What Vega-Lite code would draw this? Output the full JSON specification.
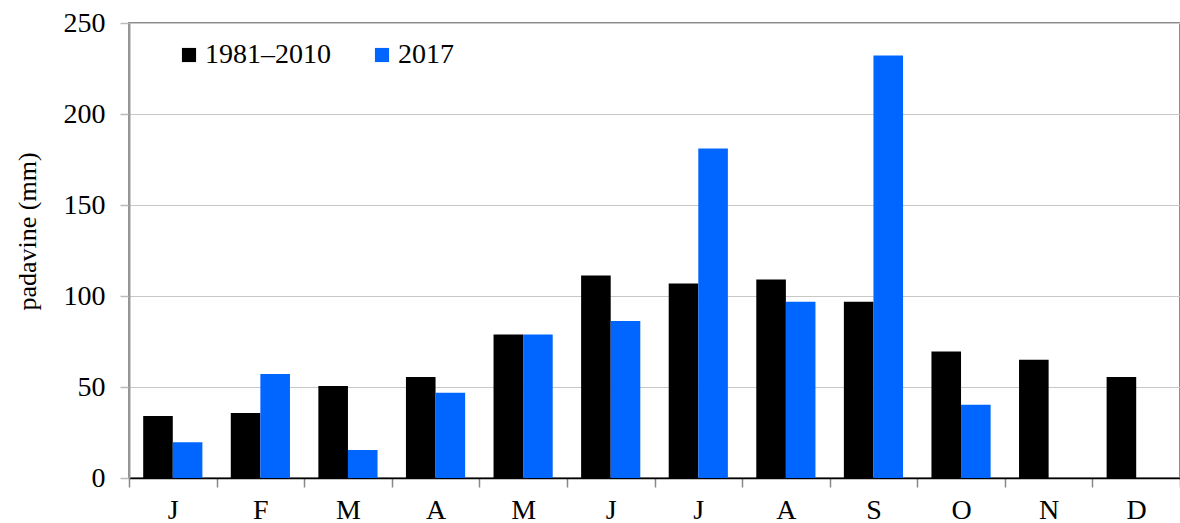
{
  "$schema": "https://vega.github.io/schema/vega-lite/v6.json",
  "width": 1051,
  "height": 455,
  "autosize": {"type": "none"},
  "padding": {"left": 129, "top": 23, "right": 0, "bottom": 45},
  "config": {
    "font": "'Liberation Serif', 'Times New Roman', serif",
    "view": {"stroke": "#8c8c8c", "strokeWidth": 2}
  },
  "data": {
    "values": [
      {"m": 1, "s": "1981–2010", "v": 34},
      {"m": 1, "s": "2017", "v": 19.7},
      {"m": 2, "s": "1981–2010", "v": 35.7},
      {"m": 2, "s": "2017", "v": 57.2},
      {"m": 3, "s": "1981–2010", "v": 50.6},
      {"m": 3, "s": "2017", "v": 15.4},
      {"m": 4, "s": "1981–2010", "v": 55.5},
      {"m": 4, "s": "2017", "v": 46.9},
      {"m": 5, "s": "1981–2010", "v": 78.9},
      {"m": 5, "s": "2017", "v": 78.9},
      {"m": 6, "s": "1981–2010", "v": 111.2},
      {"m": 6, "s": "2017", "v": 86.3},
      {"m": 7, "s": "1981–2010", "v": 106.8},
      {"m": 7, "s": "2017", "v": 181},
      {"m": 8, "s": "1981–2010", "v": 109},
      {"m": 8, "s": "2017", "v": 96.8},
      {"m": 9, "s": "1981–2010", "v": 96.8},
      {"m": 9, "s": "2017", "v": 232.2},
      {"m": 10, "s": "1981–2010", "v": 69.5},
      {"m": 10, "s": "2017", "v": 40.2},
      {"m": 11, "s": "1981–2010", "v": 65},
      {"m": 12, "s": "1981–2010", "v": 55.5}
    ]
  },
  "mark": {"type": "bar"},
  "encoding": {
    "x": {
      "field": "m",
      "type": "ordinal",
      "scale": {"paddingInner": 0, "paddingOuter": 0},
      "axis": {
        "title": null,
        "labelExpr": "['J','F','M','A','M','J','J','A','S','O','N','D'][datum.value-1]",
        "labelAngle": 0,
        "tickBand": "extent",
        "domainColor": "#000000",
        "domainWidth": 1.5,
        "tickColor": "#888888",
        "tickWidth": 1.5,
        "tickSize": 9,
        "labelFontSize": 28,
        "labelPadding": 9,
        "labelColor": "#000000",
        "labelFont": "'Liberation Serif', 'Times New Roman', serif",
        "grid": false
      }
    },
    "xOffset": {
      "field": "s",
      "type": "nominal",
      "sort": ["1981–2010", "2017"],
      "scale": {"paddingInner": 0, "paddingOuter": 0.48}
    },
    "y": {
      "field": "v",
      "type": "quantitative",
      "scale": {"domain": [0, 250], "nice": false},
      "axis": {
        "values": [0, 50, 100, 150, 200, 250],
        "title": "padavine (mm)",
        "titleFont": "'Liberation Serif', 'Times New Roman', serif",
        "titleFontSize": 26,
        "titleFontWeight": "normal",
        "titleColor": "#000000",
        "titleX": -102,
        "titleY": 208,
        "titleAngle": -90,
        "titleBaseline": "middle",
        "titleAlign": "center",
        "domainColor": "#999999",
        "domainWidth": 2,
        "tickColor": "#bbbbbb",
        "tickWidth": 1.5,
        "tickSize": 9,
        "labelFontSize": 28,
        "labelPadding": 15,
        "labelColor": "#000000",
        "labelFont": "'Liberation Serif', 'Times New Roman', serif",
        "gridColor": "#c8c8c8",
        "gridWidth": 1
      }
    },
    "color": {
      "field": "s",
      "type": "nominal",
      "scale": {"domain": ["1981–2010", "2017"], "range": ["#000000", "#0066ff"]},
      "legend": {
        "title": null,
        "orient": "none",
        "legendX": 46,
        "legendY": 18,
        "direction": "horizontal",
        "columns": 2,
        "columnPadding": 37,
        "symbolType": "square",
        "symbolSize": 200,
        "symbolStrokeWidth": 0,
        "labelFont": "'Liberation Serif', 'Times New Roman', serif",
        "labelFontSize": 28,
        "labelColor": "#000000",
        "labelOffset": 2
      }
    }
  }
}
